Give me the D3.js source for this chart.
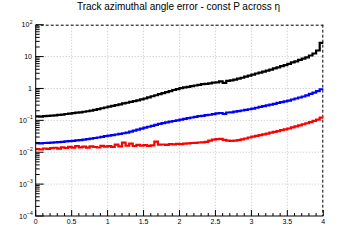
<!DOCTYPE html>
<html><head><meta charset="utf-8">
<script src="https://cdn.jsdelivr.net/npm/d3@7"></script>
<style>body{margin:0;background:#fff}svg{display:block}text{font-family:"Liberation Sans",Arial,sans-serif}</style>
</head><body>
<svg id="c" width="360" height="240"></svg>
<script>
const title = "Track azimuthal angle error - const P across η";
const etaMin = 0, etaMax = 4, nBins = 80;
const black = [0.133,0.131,0.136,0.138,0.141,0.143,0.149,0.152,0.158,0.163,
0.168,0.175,0.179,0.186,0.193,0.201,0.214,0.225,0.240,0.253,
0.268,0.283,0.302,0.318,0.340,0.357,0.380,0.401,0.426,0.452,
0.485,0.522,0.571,0.612,0.665,0.715,0.772,0.825,0.894,0.958,
1.02,1.08,1.12,1.19,1.24,1.30,1.36,1.39,1.45,1.52,
1.55,1.68,1.49,1.72,1.80,1.90,2.03,2.17,2.36,2.52,
2.72,2.95,3.12,3.38,3.62,3.92,4.28,4.61,5.00,5.42,
5.90,6.55,7.10,7.85,8.60,9.45,10.8,12.5,15.5,27];
const blue = [0.0192,0.0190,0.0195,0.0197,0.0200,0.0204,0.0207,0.0212,0.0218,0.0222,
0.0228,0.0236,0.0240,0.0248,0.0256,0.0266,0.0280,0.0290,0.0302,0.0318,
0.0330,0.0346,0.0360,0.0378,0.0394,0.0415,0.0446,0.0475,0.0512,0.0548,
0.0590,0.0630,0.0672,0.0722,0.0770,0.0820,0.0862,0.0910,0.0955,0.100,
0.106,0.112,0.117,0.123,0.129,0.135,0.139,0.145,0.150,0.156,
0.165,0.170,0.160,0.176,0.178,0.187,0.195,0.204,0.213,0.223,
0.234,0.248,0.263,0.278,0.295,0.312,0.331,0.351,0.372,0.393,
0.418,0.450,0.484,0.520,0.560,0.605,0.672,0.742,0.822,0.945];
const red = [0.0125,0.0122,0.0131,0.0127,0.0134,0.0138,0.0129,0.0142,0.0136,0.0148,
0.0140,0.0155,0.0143,0.0150,0.0139,0.0152,0.0146,0.0141,0.0158,0.0149,
0.0155,0.0147,0.0172,0.0153,0.0200,0.0160,0.0185,0.0157,0.0170,0.0162,
0.0168,0.0158,0.0165,0.0215,0.0172,0.0175,0.0170,0.0180,0.0176,0.0183,
0.0180,0.0186,0.0190,0.0195,0.0198,0.0202,0.0205,0.0212,0.0232,0.0250,
0.0258,0.0262,0.0245,0.0232,0.0226,0.0230,0.0240,0.0252,0.0270,0.0290,
0.0310,0.0326,0.0345,0.0362,0.0385,0.0410,0.0435,0.0462,0.0492,0.0520,
0.0555,0.0600,0.0648,0.0700,0.0755,0.0810,0.0880,0.0965,0.106,0.122];
const xTicks = [0,0.5,1,1.5,2,2.5,3,3.5,4];
const xTickLabels = ["0","0.5","1","1.5","2","2.5","3","3.5","4"];
const yDecades = [-4,-3,-2,-1,0,1,2];
const yTickLabels = [["10","−4"],["10","−3"],["10","−2"],["10","−1"],["1",""],["10",""],["10","2"]];

const svg = d3.select("#c");
const L = 35.7, R = 323.3, T = 24.7, B = 216;
const x = d3.scaleLinear().domain([etaMin, etaMax]).range([L, R]);
const y = d3.scaleLog().domain([1e-4, 1e2]).range([B, T]);

// grid
const g = svg.append("g");
xTicks.filter(v => v > etaMin && v < etaMax).forEach(v => {
  g.append("line").attr("x1", x(v)).attr("x2", x(v)).attr("y1", T).attr("y2", B)
   .attr("stroke", "#c0c0c0").attr("stroke-width", 1).attr("stroke-dasharray", "1,2");
});
yDecades.filter(d => d > -4 && d < 2).forEach(d => {
  g.append("line").attr("x1", L).attr("x2", R).attr("y1", y(Math.pow(10, d))).attr("y2", y(Math.pow(10, d)))
   .attr("stroke", "#c0c0c0").attr("stroke-width", 1).attr("stroke-dasharray", "1,2");
});
// frame top/right dashed
svg.append("line").attr("x1", L).attr("x2", R).attr("y1", T+0.5).attr("y2", T+0.5)
  .attr("stroke", "#000").attr("stroke-dasharray", "3,2");
svg.append("line").attr("x1", R-0.5).attr("x2", R-0.5).attr("y1", T).attr("y2", B)
  .attr("stroke", "#000").attr("stroke-dasharray", "3,2");

// series
const binW = (etaMax - etaMin) / nBins;
function pts(arr) {
  const p = arr.map((v, i) => [etaMin + i * binW, v]);
  p.push([etaMax, arr[arr.length - 1]]);
  return p;
}
const line = d3.line().x(d => x(d[0])).y(d => y(d[1])).curve(d3.curveStepAfter);
[[black, "#000"], [red, "#ff0000"], [blue, "#0000ff"]].forEach(([arr, col]) => {
  svg.append("path").attr("d", line(pts(arr))).attr("fill", "none")
    .attr("stroke", col).attr("stroke-width", 2.2);
});

// axes lines
svg.append("line").attr("x1", L).attr("x2", L).attr("y1", T).attr("y2", B+0.5).attr("stroke", "#000");
svg.append("line").attr("x1", L).attr("x2", R).attr("y1", B).attr("y2", B).attr("stroke", "#000");

// x ticks
for (let i = 0; i <= 40; i++) {
  const v = i * 0.1;
  const major = i % 5 === 0;
  svg.append("line").attr("x1", x(v)).attr("x2", x(v)).attr("y1", B).attr("y2", B - (major ? 6 : 3))
    .attr("stroke", "#000");
}
xTicks.forEach((v, i) => {
  svg.append("text").attr("x", x(v)).attr("y", B + 8).attr("text-anchor", "middle")
    .attr("font-size", 7).text(xTickLabels[i]);
});
// y ticks
yDecades.forEach(d => {
  svg.append("line").attr("x1", L).attr("x2", L + 8).attr("y1", y(Math.pow(10, d))).attr("y2", y(Math.pow(10, d)))
    .attr("stroke", "#000");
  if (d < 2) for (let k = 2; k <= 9; k++) {
    const yy = y(k * Math.pow(10, d));
    svg.append("line").attr("x1", L).attr("x2", L + 4).attr("y1", yy).attr("y2", yy).attr("stroke", "#000");
  }
});
yDecades.forEach((d, i) => {
  const [base, exp] = yTickLabels[i];
  const yy = y(Math.pow(10, d)) + 2.5;
  const t = svg.append("text").attr("y", yy).attr("font-size", 7);
  if (exp) {
    t.attr("x", 32 - exp.length * 2.6).attr("text-anchor", "end").text(base);
    svg.append("text").attr("x", 32 - exp.length * 2.6 + 0.3).attr("y", yy - 3.5).attr("font-size", 5).text(exp);
  } else {
    t.attr("x", 32).attr("text-anchor", "end").text(base);
  }
});

// title
svg.append("text").attr("x", 178.5).attr("y", 10).attr("text-anchor", "middle")
  .attr("font-size", 10).attr("textLength", 203).attr("lengthAdjust", "spacing").text(title);
</script>
</body></html>
